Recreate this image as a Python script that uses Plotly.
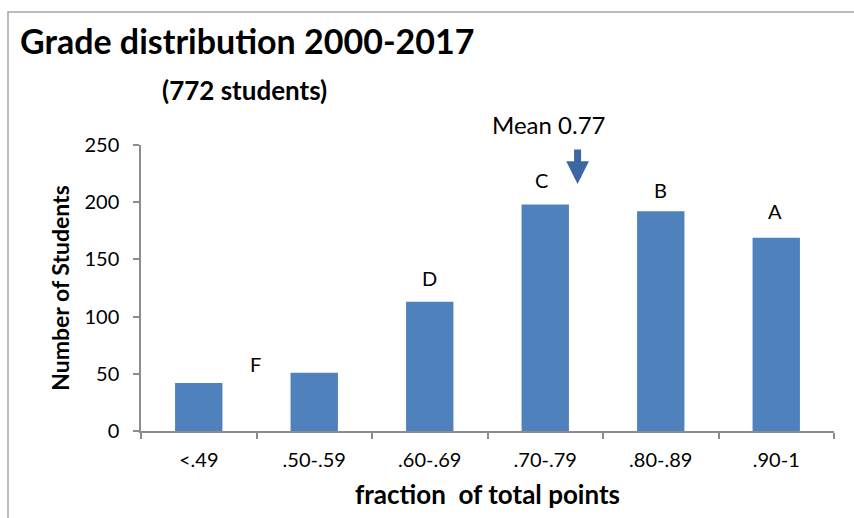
import plotly.graph_objects as go

categories = ["<.49", ".50-.59", ".60-.69", ".70-.79", ".80-.89", ".90-1"]
counts = [42, 51, 113, 198, 192, 169]
grade_letters = ["F", "D", "C", "B", "A"]
letter_x = [0.49, 2.0, 2.97, 4.0, 4.99]
letter_y = [59, 134, 219, 211, 192]
mean_label = "Mean 0.77"
mean_x = 3.28

W, H = 854, 518
L, R, T, B = 141, 20, 145, 87
FONT = "Lato, Calibri, Arial, sans-serif"
BAR = "#4F81BD"
AX = "#8c8c8c"

pw = W - L - R
ph = H - T - B
def px(x):
    return (x - L) / pw
def py(y):
    return (H - B - y) / ph

fig = go.Figure()
fig.add_trace(go.Bar(x=categories, y=counts, marker=dict(color=BAR, line=dict(width=0)),
                     hoverinfo="x+y"))

ann = []
for t, xx, yy in zip(grade_letters, letter_x, letter_y):
    ann.append(dict(x=xx, y=yy, xref="x", yref="y", text=t, showarrow=False,
                    font=dict(family=FONT, size=20, color="#000")))
ann.append(dict(x=px(548), y=py(125), xref="paper", yref="paper", xanchor="center", yanchor="middle",
                text=mean_label, showarrow=False,
                font=dict(family=FONT, size=24, color="#000")))
ann.append(dict(x=mean_x, y=216, xref="x", yref="y", ax=0, ay=-36, text="", showarrow=True,
                arrowhead=2, arrowwidth=7, arrowsize=0.65, arrowcolor="#3C67A3"))
ann.append(dict(x=px(18), y=py(40), xref="paper", yref="paper", xanchor="left", yanchor="middle",
                text="<b>Grade distribution 2000-2017</b>", showarrow=False,
                font=dict(family=FONT, size=34, color="#000")))
ann.append(dict(x=px(160), y=py(90), xref="paper", yref="paper", xanchor="left", yanchor="middle",
                text="<b>(772 students)</b>", showarrow=False,
                font=dict(family=FONT, size=26, color="#000")))

fig.update_layout(
    width=W, height=H,
    margin=dict(l=L, r=R, t=T, b=B),
    paper_bgcolor="white", plot_bgcolor="white",
    showlegend=False,
    bargap=0.59,
    annotations=ann,
    shapes=[dict(type="path", xref="paper", yref="paper",
                 path=f"M {px(8)} {py(520)} L {px(8)} {py(12)} L {px(860)} {py(12)}",
                 line=dict(color="#a6a6a6", width=1.5))],
    xaxis=dict(showgrid=False, showline=True, linecolor=AX, linewidth=1.5,
               ticks="outside", ticklen=6, tickcolor=AX, tickwidth=1.5, tickson="boundaries",
               ticklabelstandoff=10,
               tickfont=dict(family=FONT, size=20, color="#000"),
               title=dict(text="<b>fraction  of total points</b>", standoff=16,
                          font=dict(family=FONT, size=26, color="#000"))),
    yaxis=dict(range=[0, 250], dtick=50, showgrid=False, showline=True, linecolor=AX, linewidth=1.5,
               ticks="outside", ticklen=6, tickcolor=AX, tickwidth=1.5,
               ticklabelstandoff=10,
               tickfont=dict(family=FONT, size=20, color="#000"),
               title=dict(text="<b>Number of Students</b>", standoff=8,
                          font=dict(family=FONT, size=23, color="#000"))),
)

fig.write_html("out.html", config={"displayModeBar": False},
               post_script="document.body.style.margin='0';")
